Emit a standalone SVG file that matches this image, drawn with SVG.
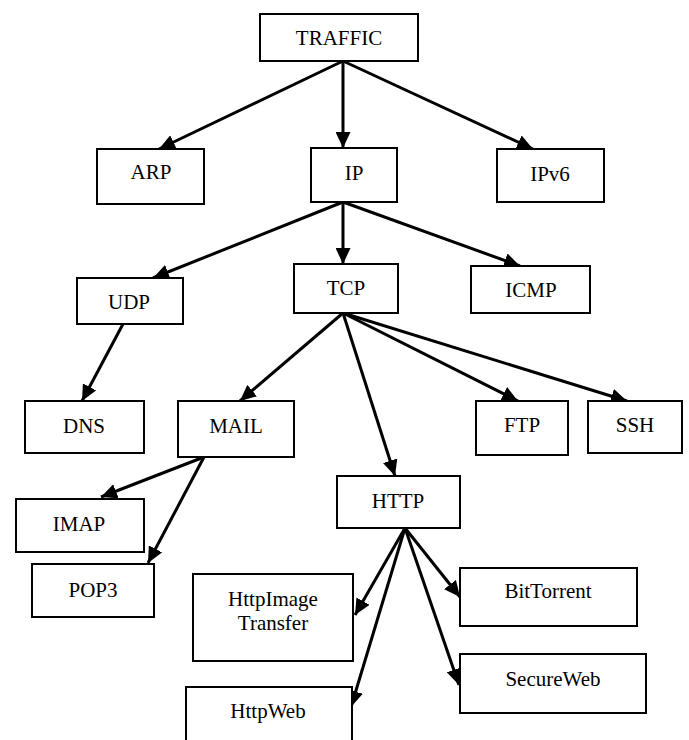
<svg xmlns="http://www.w3.org/2000/svg" width="689" height="740" viewBox="0 0 689 740" font-family="Liberation Serif, Times New Roman, serif">
<style>
.box{fill:#fff;stroke:#000;stroke-width:2}
text{font-family:"Liberation Serif","Times New Roman",serif;font-size:21px;fill:#000;text-anchor:middle}
.edge{stroke:#000;stroke-width:3;fill:none;marker-end:url(#ah)}
</style>
<defs>
<marker id="ah" markerUnits="userSpaceOnUse" markerWidth="17" markerHeight="15" refX="16" refY="7.5" orient="auto">
<path d="M0,0 L16,7.5 L0,15 z" fill="#000"/>
</marker>
</defs>
<rect width="689" height="740" fill="#fff"/>
<g id="connectors">
<line class="edge" x1="343" y1="61" x2="159" y2="149"/>
<line class="edge" x1="343" y1="61" x2="343" y2="148"/>
<line class="edge" x1="343" y1="61" x2="533" y2="149"/>
<line class="edge" x1="343" y1="202" x2="153" y2="278"/>
<line class="edge" x1="343" y1="202" x2="343" y2="264"/>
<line class="edge" x1="343" y1="202" x2="520" y2="266"/>
<line class="edge" x1="123" y1="324" x2="82" y2="401"/>
<line class="edge" x1="343" y1="313" x2="240" y2="401"/>
<line class="edge" x1="343" y1="313" x2="395" y2="476"/>
<line class="edge" x1="343" y1="313" x2="518" y2="401"/>
<line class="edge" x1="343" y1="313" x2="627" y2="401"/>
<line class="edge" x1="204" y1="457" x2="101" y2="497"/>
<line class="edge" x1="204" y1="457" x2="148" y2="563"/>
<line class="edge" x1="405" y1="528" x2="355" y2="615"/>
<line class="edge" x1="405" y1="528" x2="351" y2="707"/>
<line class="edge" x1="405" y1="528" x2="460" y2="597"/>
<line class="edge" x1="405" y1="528" x2="459" y2="685"/>
</g>
<g id="TRAFFIC"><rect class="box" x="260" y="14" width="158" height="47"/><text x="339" y="45">TRAFFIC</text></g>
<g id="ARP"><rect class="box" x="97" y="149" width="107" height="55"/><text x="151" y="179">ARP</text></g>
<g id="IP"><rect class="box" x="311" y="148" width="86" height="54"/><text x="354" y="180">IP</text></g>
<g id="IPv6"><rect class="box" x="497" y="149" width="107" height="53"/><text x="550" y="181">IPv6</text></g>
<g id="UDP"><rect class="box" x="77" y="278" width="106" height="46"/><text x="129" y="309">UDP</text></g>
<g id="TCP"><rect class="box" x="294" y="264" width="104" height="49"/><text x="346" y="295">TCP</text></g>
<g id="ICMP"><rect class="box" x="471" y="266" width="119" height="47"/><text x="531" y="297">ICMP</text></g>
<g id="DNS"><rect class="box" x="25" y="401" width="119" height="52"/><text x="84" y="433">DNS</text></g>
<g id="MAIL"><rect class="box" x="178" y="401" width="116" height="56"/><text x="236" y="433">MAIL</text></g>
<g id="FTP"><rect class="box" x="476" y="401" width="92" height="54"/><text x="522" y="432">FTP</text></g>
<g id="SSH"><rect class="box" x="588" y="401" width="94" height="52"/><text x="635" y="432">SSH</text></g>
<g id="IMAP"><rect class="box" x="16" y="499" width="128" height="53"/><text x="79" y="531">IMAP</text></g>
<g id="POP3"><rect class="box" x="32" y="564" width="122" height="53"/><text x="93" y="597">POP3</text></g>
<g id="HTTP"><rect class="box" x="337" y="476" width="123" height="52"/><text x="398" y="508">HTTP</text></g>
<g id="HttpImageTransfer"><rect class="box" x="193" y="574" width="160" height="87"/><text x="273" y="606">HttpImage</text><text x="273" y="630">Transfer</text></g>
<g id="HttpWeb"><rect class="box" x="186" y="687" width="166" height="60"/><text x="268" y="718">HttpWeb</text></g>
<g id="BitTorrent"><rect class="box" x="460" y="568" width="177" height="58"/><text x="548" y="598">BitTorrent</text></g>
<g id="SecureWeb"><rect class="box" x="460" y="654" width="186" height="59"/><text x="553" y="686">SecureWeb</text></g>
</svg>
